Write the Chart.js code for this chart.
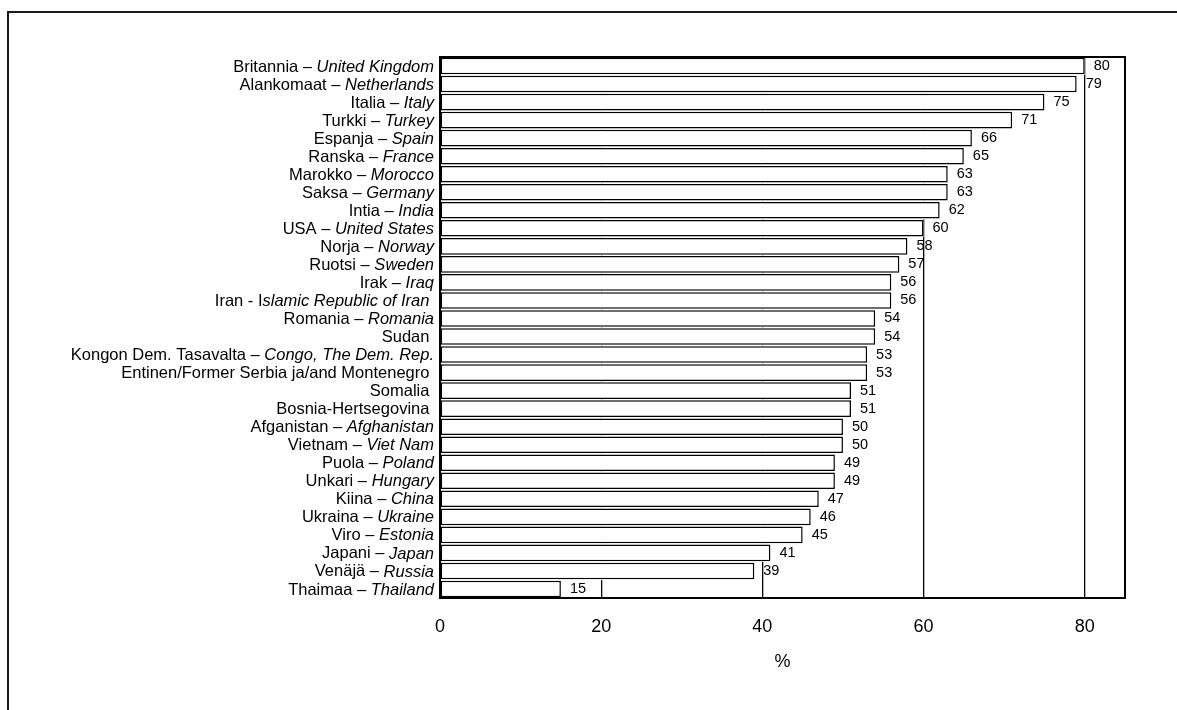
<!DOCTYPE html>
<html><head><meta charset="utf-8">
<script src="https://cdn.jsdelivr.net/npm/chart.js@4.4.1/dist/chart.umd.min.js"></script>
<style>
html,body{margin:0;padding:0;background:#fff;}
#wrap{position:relative;width:1177px;height:710px;overflow:hidden;background:#fff;}
#frame{position:absolute;left:7px;top:11px;width:1200px;height:720px;border-top:2px solid #1a1a1a;border-left:2px solid #1a1a1a;}
canvas{position:absolute;left:0;top:0;}
</style></head><body>
<div id="wrap"><div id="frame"></div><canvas id="c" width="1177" height="710"></canvas></div>
<script>
// Category labels: upright (Finnish) part and italic (English) part
const labelPlain = [
  "Britannia – ", "Alankomaat – ", "Italia – ", "Turkki – ", "Espanja – ",
  "Ranska – ", "Marokko – ", "Saksa – ", "Intia – ", "USA – ",
  "Norja – ", "Ruotsi – ", "Irak – ", "Iran - I", "Romania – ",
  "Sudan ", "Kongon Dem. Tasavalta – ", "Entinen/Former Serbia ja/and Montenegro ", "Somalia ", "Bosnia-Hertsegovina ",
  "Afganistan – ", "Vietnam – ", "Puola – ", "Unkari – ", "Kiina – ",
  "Ukraina – ", "Viro – ", "Japani – ", "Venäjä – ", "Thaimaa – "
];
const labelItalic = [
  "United Kingdom", "Netherlands", "Italy", "Turkey", "Spain",
  "France", "Morocco", "Germany", "India", "United States",
  "Norway", "Sweden", "Iraq", "slamic Republic of Iran ", "Romania",
  "", "Congo, The Dem. Rep.", "", "", "",
  "Afghanistan", "Viet Nam", "Poland", "Hungary", "China",
  "Ukraine", "Estonia", "Japan", "Russia", "Thailand"
];
const values = [80, 79, 75, 71, 66, 65, 63, 63, 62, 60, 58, 57, 56, 56, 54, 54, 53, 53, 51, 51, 50, 50, 49, 49, 47, 46, 45, 41, 39, 15];
const xTickValues = [0, 20, 40, 60, 80];
const axisTitle = "%";

const categories = labelPlain.map((p, i) => p + labelItalic[i]);
const FONT = "'Liberation Sans', Arial, Helvetica, sans-serif";

const yLabelPlugin = {
  id: 'yLabels',
  afterDraw(chart) {
    const ctx = chart.ctx;
    const ys = chart.scales.y;
    const xRight = chart.chartArea.left - 6;
    ctx.save();
    ctx.fillStyle = '#000';
    ctx.textBaseline = 'middle';
    ctx.textAlign = 'left';
    categories.forEach((c, i) => {
      const y = ys.getPixelForValue(i) + 1;
      ctx.font = "italic 16.5px " + FONT;
      const wi = ctx.measureText(labelItalic[i]).width;
      ctx.font = "16.5px " + FONT;
      const wp = ctx.measureText(labelPlain[i]).width;
      const x0 = xRight - wi - wp;
      ctx.fillText(labelPlain[i], x0, y);
      ctx.font = "italic 16.5px " + FONT;
      ctx.fillText(labelItalic[i], x0 + wp, y);
    });
    ctx.restore();
  }
};

// Keep the vertical grid lines hidden between adjacent bars (bars sit on white rows)
const rowMaskPlugin = {
  id: 'rowMask',
  beforeDatasetsDraw(chart) {
    const ctx = chart.ctx;
    const meta = chart.getDatasetMeta(0);
    const ys = chart.scales.y;
    const band = Math.abs(ys.getPixelForValue(1) - ys.getPixelForValue(0));
    const left = chart.chartArea.left + 1;
    ctx.save();
    ctx.fillStyle = '#ffffff';
    meta.data.forEach((el) => {
      ctx.fillRect(left, el.y - band / 2, el.x - left, band);
    });
    ctx.restore();
  }
};

const valueLabelPlugin = {
  id: 'valueLabels',
  afterDatasetsDraw(chart) {
    const ctx = chart.ctx;
    const meta = chart.getDatasetMeta(0);
    ctx.save();
    ctx.fillStyle = '#000';
    ctx.font = "14.5px " + FONT;
    ctx.textBaseline = 'middle';
    ctx.textAlign = 'left';
    meta.data.forEach((el, i) => {
      ctx.fillText(String(values[i]), el.x + 9, el.y);
    });
    ctx.restore();
  }
};

const framePlugin = {
  id: 'plotFrame',
  afterDraw(chart) {
    const a = chart.chartArea;
    const ctx = chart.ctx;
    ctx.save();
    ctx.strokeStyle = '#000';
    ctx.lineWidth = 2;
    ctx.strokeRect(a.left, a.top, a.right - a.left, a.bottom - a.top);
    ctx.restore();
  }
};

new Chart(document.getElementById('c'), {
  type: 'bar',
  data: {
    labels: categories,
    datasets: [{
      data: values,
      backgroundColor: '#ffffff',
      borderColor: '#000000',
      borderWidth: 1.5,
      borderSkipped: false,
      barPercentage: 1.0,
      categoryPercentage: 0.92
    }]
  },
  options: {
    indexAxis: 'y',
    responsive: false,
    animation: false,
    layout: { padding: { left: 0, right: 52, top: 57, bottom: 0 } },
    plugins: { legend: { display: false }, tooltip: { enabled: false } },
    scales: {
      x: {
        min: 0,
        max: 85,
        afterBuildTicks(scale) { scale.ticks = xTickValues.map(v => ({ value: v })); },
        afterFit(scale) { scale.height = 112; },
        ticks: { color: '#000', font: { family: FONT, size: 18 }, padding: 18, includeBounds: false },
        grid: { color: '#000', lineWidth: 1.3, drawTicks: false },
        border: { display: true, color: '#000', width: 2 },
        title: { display: true, text: axisTitle, color: '#000', font: { family: FONT, size: 18 }, padding: { top: 0, bottom: 37 } }
      },
      y: {
        afterFit(scale) { scale.width = 440; },
        ticks: { display: false },
        grid: { display: false },
        border: { display: true, color: '#000', width: 2 }
      }
    }
  },
  plugins: [yLabelPlugin, rowMaskPlugin, valueLabelPlugin, framePlugin]
});
</script>
</body></html>
